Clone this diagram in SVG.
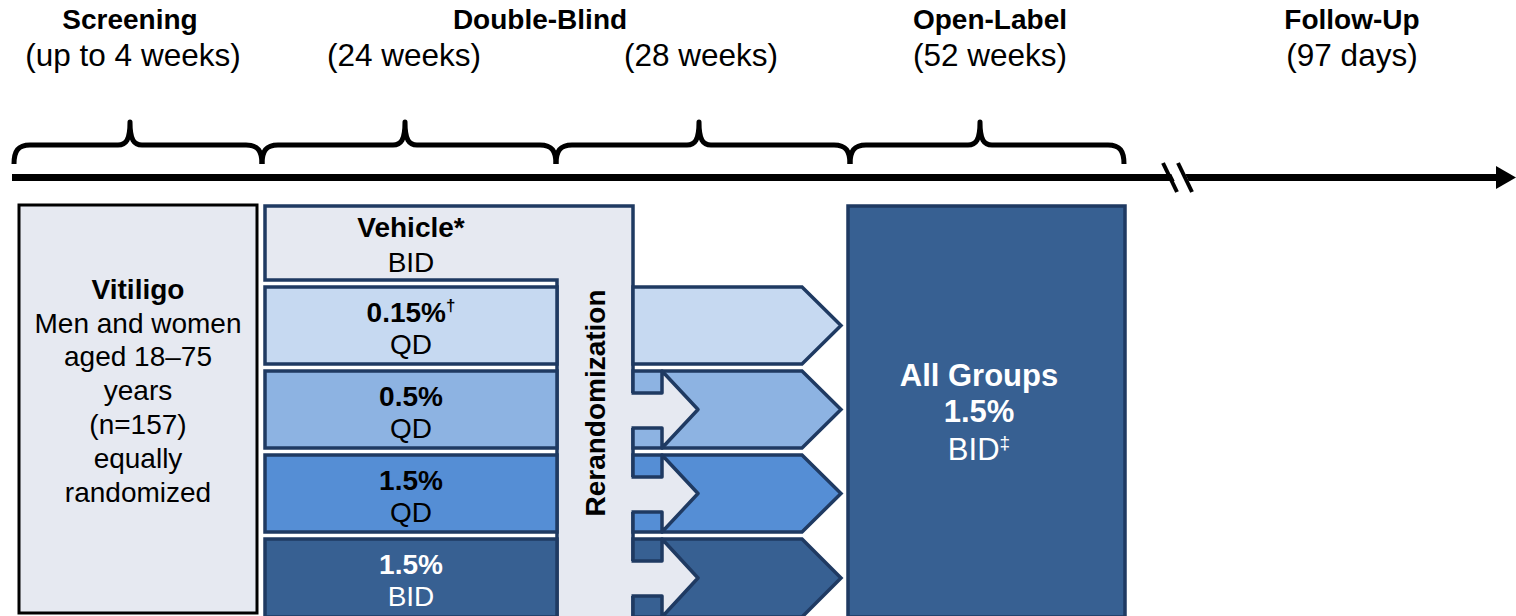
<svg xmlns="http://www.w3.org/2000/svg" width="1516" height="616" viewBox="0 0 1516 616">
<style>
text{font-family:"Liberation Sans",Arial,sans-serif;}
.hb{font-size:28px;font-weight:bold;text-anchor:middle;fill:#000;}
.hr{font-size:31.5px;text-anchor:middle;fill:#000;}
.b{font-size:28px;font-weight:bold;text-anchor:middle;}
.r{font-size:28px;text-anchor:middle;}
.bw{font-size:31px;font-weight:bold;text-anchor:middle;fill:#fff;}
.rw{font-size:31px;text-anchor:middle;fill:#fff;}
.brace{fill:none;stroke:#000;stroke-width:5;stroke-linejoin:round;}
.nv{stroke:#1F3A62;stroke-width:3.5;}
.gray{fill:#E6E9F1;}
.c1{fill:#C6D9F1;}
.c2{fill:#8DB3E2;}
.c3{fill:#558ED5;}
.c4{fill:#376092;}
.notch{fill:none;stroke:#1F3A62;stroke-width:3.5;stroke-linejoin:round;}
</style>

<g id="headers">
<text class="hb" x="130" y="29">Screening</text>
<text class="hr" x="133" y="66">(up to 4 weeks)</text>
<text class="hb" x="540" y="29">Double-Blind</text>
<text class="hr" x="404" y="66">(24 weeks)</text>
<text class="hr" x="701" y="66">(28 weeks)</text>
<text class="hb" x="990" y="29">Open-Label</text>
<text class="hr" x="990" y="66">(52 weeks)</text>
<text class="hb" x="1352" y="29">Follow-Up</text>
<text class="hr" x="1352" y="66">(97 days)</text>
</g>

<g id="braces">
<path class="brace" d="M14,164 C14,151 18,145 30,145 L118,145 C126,145 130,140 130,122 C130,140 134,145 142,145 L246,145 C258,145 262,151 262,164"/>
<path class="brace" d="M262,164 C262,151 266,145 278,145 L393,145 C401,145 405,140 405,122 C405,140 409,145 417,145 L540,145 C552,145 556,151 556,164"/>
<path class="brace" d="M556,164 C556,151 560,145 572,145 L687,145 C695,145 699,140 699,122 C699,140 703,145 711,145 L834,145 C846,145 850,151 850,164"/>
<path class="brace" d="M850,164 C850,151 854,145 866,145 L968,145 C976,145 980,140 980,122 C980,140 984,145 992,145 L1108,145 C1120,145 1124,151 1124,164"/>
</g>

<g id="timeline">
<line x1="12" y1="177.5" x2="1500" y2="177.5" stroke="#000" stroke-width="7"/>
<polygon points="1496,166 1516,177.5 1496,189" fill="#000"/>
<polygon points="1166,163 1180,163 1194,192 1180,192" fill="#fff"/>
<line x1="1163" y1="163" x2="1177" y2="192" stroke="#000" stroke-width="4"/>
<line x1="1178" y1="163" x2="1192" y2="192" stroke="#000" stroke-width="4"/>
</g>

<g id="screening-box">
<rect x="19" y="205" width="238" height="408" class="gray" stroke="#000" stroke-width="3"/>
<text class="b" x="138" y="299">Vitiligo</text>
<text class="r" x="138" y="333">Men and women</text>
<text class="r" x="138" y="366">aged 18–75</text>
<text class="r" x="138" y="400">years</text>
<text class="r" x="138" y="434">(n=157)</text>
<text class="r" x="138" y="468">equally</text>
<text class="r" x="138" y="502">randomized</text>
</g>

<g id="vehicle-rerandomization">
<polygon class="gray nv" points="265,206 633,206 633,622 557,622 557,280 265,280"/>
<text class="b" x="411" y="237">Vehicle*</text>
<text class="r" x="411" y="272">BID</text>
<text class="b" transform="translate(595,403) rotate(-90)" x="0" y="10">Rerandomization</text>
</g>

<g id="row-015">
<rect x="265" y="287" width="292" height="77" class="c1 nv"/>
<text class="b" x="411" y="322">0.15%<tspan font-size="17" dy="-11">†</tspan></text>
<text class="r" x="411" y="354">QD</text>
</g>
<g id="row-05">
<rect x="265" y="371" width="292" height="77" class="c2 nv"/>
<text class="b" x="411" y="406">0.5%</text>
<text class="r" x="411" y="438">QD</text>
</g>
<g id="row-15qd">
<rect x="265" y="455" width="292" height="77" class="c3 nv"/>
<text class="b" x="411" y="490">1.5%</text>
<text class="r" x="411" y="522">QD</text>
</g>
<g id="row-15bid">
<rect x="265" y="539" width="292" height="78" class="c4 nv"/>
<text class="b" x="411" y="574" fill="#fff">1.5%</text>
<text class="r" x="411" y="606" fill="#fff">BID</text>
</g>

<g id="connectors">
<polygon class="c1 nv" points="633,287 802,287 841,325.5 802,364 633,364"/>
<polygon class="c2 nv" points="633,371 802,371 841,409.5 802,448 633,448"/>
<polygon class="gray" points="628,393 662,393 662,371 698,409.5 662,448 662,428 628,428"/>
<path class="notch" d="M631.5,393 L662,393 L662,371 L698,409.5 L662,448 L662,428 L631.5,428"/>
<polygon class="c3 nv" points="633,455 802,455 841,493.5 802,532 633,532"/>
<polygon class="gray" points="628,477 662,477 662,455 698,493.5 662,532 662,512 628,512"/>
<path class="notch" d="M631.5,477 L662,477 L662,455 L698,493.5 L662,532 L662,512 L631.5,512"/>
<polygon class="c4 nv" points="633,539 802,539 841,578 802,617 633,617"/>
<polygon class="gray" points="628,561 662,561 662,539 698,578 662,617 662,596 628,596"/>
<path class="notch" d="M631.5,561 L662,561 L662,539 L698,578 L662,617 L662,596 L631.5,596"/>
</g>

<g id="open-label-box">
<rect x="848" y="206" width="277" height="411" class="c4 nv"/>
<text class="bw" x="979" y="386">All Groups</text>
<text class="bw" x="979" y="422">1.5%</text>
<text class="rw" x="979" y="460">BID<tspan font-size="19" dy="-11">‡</tspan></text>
</g>
</svg>
